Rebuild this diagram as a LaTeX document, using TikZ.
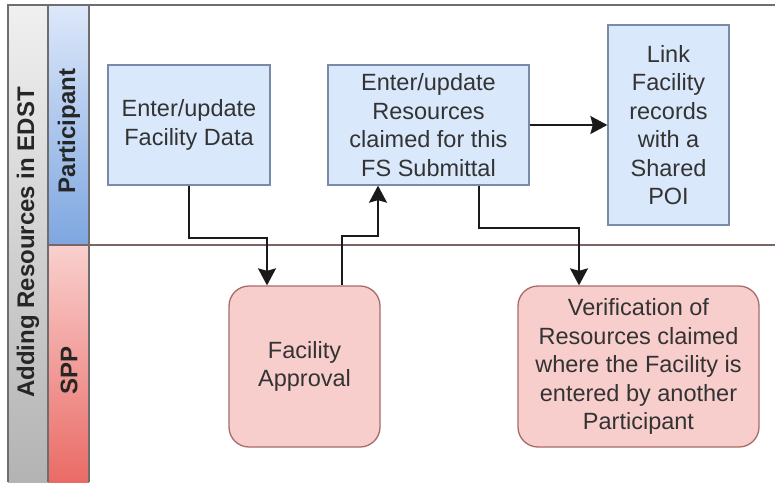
\documentclass[tikz,border=0pt]{standalone}
\usepackage{fontspec}
\setmainfont{Liberation Sans}
\usepackage{tikz}
\usepackage{xcolor}
\usetikzlibrary{arrows.meta, positioning, calc}

\definecolor{titletop}{HTML}{F0F0F0}
\definecolor{titlebot}{HTML}{B3B3B3}
\definecolor{parttop}{HTML}{DDE8FA}
\definecolor{partbot}{HTML}{7EA6E0}
\definecolor{spptop}{HTML}{F9D0CE}
\definecolor{sppbot}{HTML}{EA6B66}
\definecolor{frameline}{HTML}{6E6E6E}
\definecolor{laneline}{HTML}{7A6664}
\definecolor{taskfill}{HTML}{DAE8FC}
\definecolor{taskline}{HTML}{7A8BA8}
\definecolor{checkfill}{HTML}{F8CECC}
\definecolor{checkline}{HTML}{A86B68}
\definecolor{inktext}{HTML}{333333}
\definecolor{wire}{HTML}{1A1A1A}

\begin{document}
\begin{tikzpicture}[x=1pt, y=-1pt,
                    task/.style={draw=taskline, fill=taskfill, line width=1.3pt, text=inktext, align=center, inner sep=0pt, font=\fontsize{23.5}{28.5}\selectfont},
                    check/.style={task, draw=checkline, fill=checkfill, rounded corners=20pt},
                    lanename/.style={rotate=90, text=black!85, font=\bfseries\fontsize{24}{28}\selectfont},
                    flow/.style={draw=wire, line width=2pt, -{Stealth[length=17pt, width=18pt, inset=2.5pt]}}]
                    \useasboundingbox (0, 0) rectangle (775, 482);

                    % pool and lane headers
                    \shade[top color=titletop, bottom color=titlebot] (8, 5) rectangle (48, 482);
                    \shade[top color=parttop, bottom color=partbot] (48, 5) rectangle (89, 245);
                    \shade[top color=spptop, bottom color=sppbot] (48, 245) rectangle (89, 482);
                    \draw[frameline, line width=1.2pt]
                    (775, 5) -- (8, 5) -- (8, 482)
                    (48, 5) -- (48, 482)
                    (89, 5) -- (89, 482);
                    \draw[laneline, line width=1.5pt] (48, 245) -- (775, 245);

                    \node[lanename] (pool) at (28, 242.5) {Adding Resources in EDST};
                    \node[lanename] (participant) at (69, 131) {Participant};
                    \node[lanename] (spp) at (69, 370) {SPP};

                    % steps
                    \node[task, minimum width=162, minimum height=120] (facility) at (189, 125) {Enter/update\\Facility Data};
                    \node[task, minimum width=201, minimum height=120] (resources) at (428.5, 125) {Enter/update\\Resources\\claimed for this\\FS Submittal};
                    \node[task, minimum width=121, minimum height=200] (link) at (668.5, 125) {Link\\Facility\\records\\with a\\Shared\\POI};
                    \node[check, minimum width=151, minimum height=161] (approval) at (304.5, 366.5) {Facility\\Approval};
                    \node[check, minimum width=241, minimum height=161] (verify) at (638.5, 366.5) {Verification of\\Resources claimed\\where the Facility is\\entered by another\\Participant};

                    % connectors
                    \draw[flow] (facility.south) -- ++(0, 52) -| ([xshift=-37.5pt]approval.north);
                    \draw[flow] ([xshift=37.5pt]approval.north) -- ++(0, -49) -| ([xshift=-50.5pt]resources.south);
                    \draw[flow] (resources.east) -- (link.west);
                    \draw[flow] ([xshift=50.5pt]resources.south) -- ++(0, 42) -| ([xshift=-59.5pt]verify.north);
                \end{tikzpicture}
\end{document}
